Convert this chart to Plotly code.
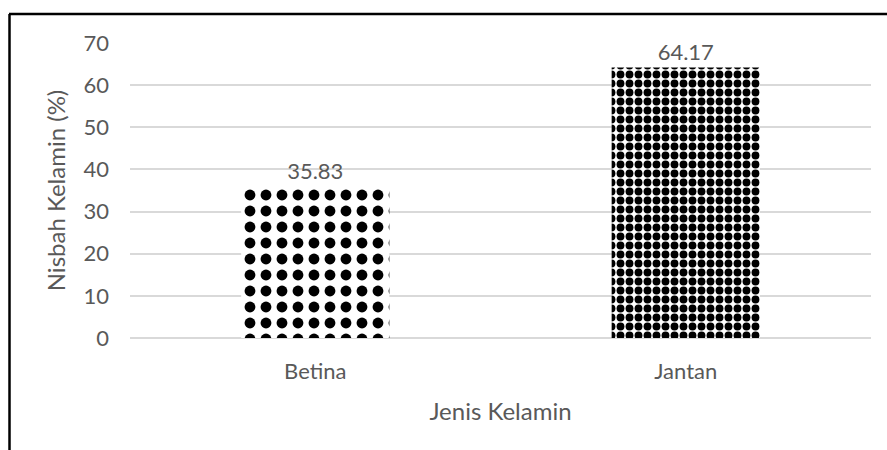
import plotly.graph_objects as go

categories = ["Betina", "Jantan"]
values = [35.83, 64.17]
labels = ["35.83", "64.17"]
pattern_shapes = [".", "."]
pattern_sizes = [16, 9]
pattern_solidity = [0.36, 0.6]

FONT = "Lato, 'Open Sans', sans-serif"
GRAY = "#595959"

W, H = 887, 450
ML, MR, MT, MB = 130, 16, 43, 112
PW, PH = W - ML - MR, H - MT - MB

fig = go.Figure()
fig.add_trace(go.Bar(
    x=categories,
    y=values,
    text=labels,
    textposition="outside",
    textfont=dict(family=FONT, size=22, color=GRAY),
    cliponaxis=False,
    marker=dict(
        color="white",
        line=dict(width=0),
        pattern=dict(
            shape=pattern_shapes,
            size=pattern_sizes,
            solidity=pattern_solidity,
            fgcolor="black",
            bgcolor="white",
            fillmode="replace",
        ),
    ),
))

fig.update_layout(
    width=W,
    height=H,
    margin=dict(l=ML, r=MR, t=MT, b=MB),
    paper_bgcolor="white",
    plot_bgcolor="white",
    showlegend=False,
    bargap=0.6,
    font=dict(family=FONT, size=22, color=GRAY),
    xaxis=dict(
        title=dict(text="Jenis Kelamin", font=dict(size=24, color=GRAY), standoff=20),
        showgrid=False,
        showline=False,
        ticks="",
        tickfont=dict(size=22, color=GRAY),
        ticklabelstandoff=18,
    ),
    yaxis=dict(
        title=dict(text="Nisbah Kelamin (%)", font=dict(size=24, color=GRAY), standoff=11),
        range=[0, 70],
        dtick=10,
        showgrid=True,
        gridcolor="#d9d9d9",
        gridwidth=1.5,
        zeroline=True,
        zerolinecolor="#d9d9d9",
        zerolinewidth=2,
        showline=False,
        ticks="",
        tickfont=dict(size=22, color=GRAY),
        ticklabelstandoff=20,
    ),
    shapes=[
        dict(type="line", xref="paper", yref="paper",
             x0=(9 - ML) / PW, x1=(W - ML) / PW,
             y0=(H - MB - 14) / PH, y1=(H - MB - 14) / PH,
             line=dict(color="black", width=2.5)),
        dict(type="line", xref="paper", yref="paper",
             x0=(9.5 - ML) / PW, x1=(9.5 - ML) / PW,
             y0=-MB / PH, y1=(H - MB - 14) / PH,
             line=dict(color="black", width=2.5)),
    ],
)

fig.write_html("out.html", config={"displayModeBar": False},
               post_script="document.body.style.margin='0px';")
